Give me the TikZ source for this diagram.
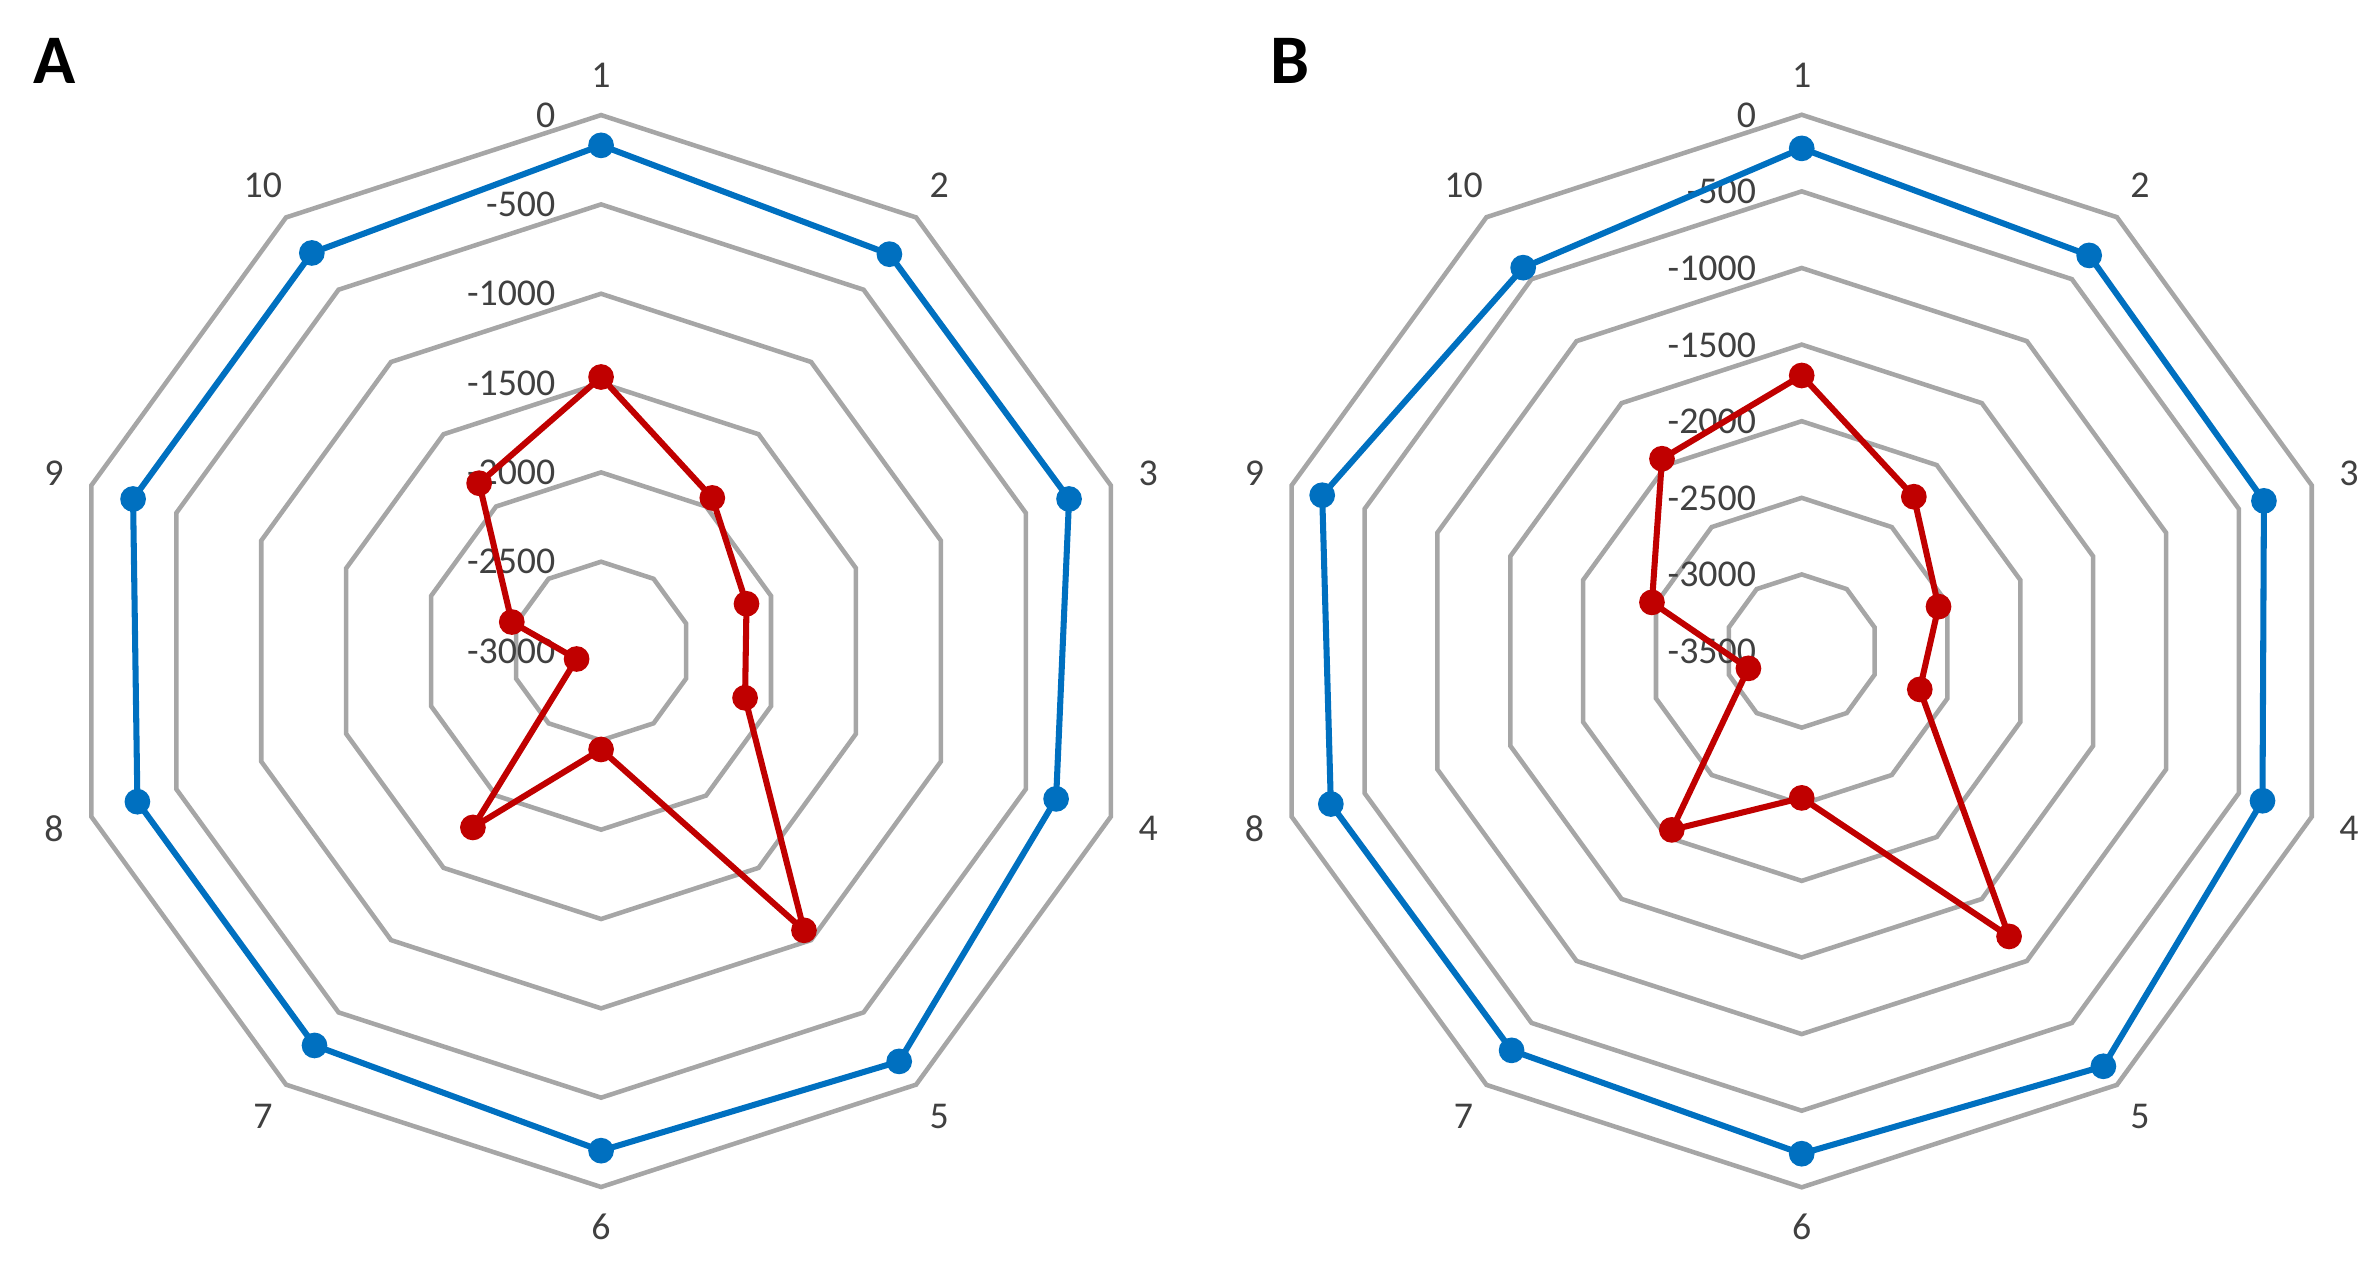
\documentclass[tikz,border=0pt]{standalone}
\usepackage{fontspec}
\setmainfont{Carlito}
\definecolor{cblue}{HTML}{0070C0}
\definecolor{cred}{HTML}{C00000}
\definecolor{cgrid}{HTML}{A6A6A6}
\definecolor{ctext}{HTML}{404040}
\tikzset{
 grid/.style={draw=cgrid,line width=3pt},
 bline/.style={draw=cblue,line width=4pt,line join=round},
 rline/.style={draw=cred,line width=4pt,line join=round},
 bdot/.style={circle,fill=cblue,inner sep=0pt,minimum size=17pt},
 rdot/.style={circle,fill=cred,inner sep=0pt,minimum size=17pt},
 tick/.style={text=ctext,font=\fontsize{25}{28}\selectfont,anchor=east,inner sep=0pt},
 axl/.style={text=ctext,font=\fontsize{25}{28}\selectfont,inner sep=0pt},
 panel/.style={font=\fontsize{46}{50}\selectfont\bfseries,inner sep=0pt}
}
\begin{document}
\begin{tikzpicture}[x=1pt,y=1pt]
\useasboundingbox (0,0) rectangle (1568,-841);
\node[panel] (A) at (36,-40) {A};
\node[panel] (B) at (852,-40) {B};
% Panel A
\begin{scope}[shift={(397,-430)}]
 \foreach \r in {59,118,177,236,295,354}
  \draw[grid] (90:\r) \foreach \k in {1,...,9}{ -- (90-36*\k:\r)} -- cycle;
 \foreach \v [count=\i from 0] in {0,-500,-1000,-1500,-2000,-2500,-3000}
  \node[tick] (at\i) at (-30,354-59*\i) {\v};
 \foreach \k in {1,...,10}
  \node[axl] (ax\k) at ({90-36*(\k-1)}:380) {\k};
 \foreach \r [count=\k] in {334,324,325,316,335,330,322,322,325,325}
  \node[bdot] (ab\k) at ({90-36*(\k-1)}:\r) {};
 \foreach \r [count=\k] in {181,125,101,100,228,65,144,17,62,137}
  \node[rdot] (ar\k) at ({90-36*(\k-1)}:\r) {};
 \draw[bline] (ab1.center) -- (ab2.center) -- (ab3.center) -- (ab4.center) -- (ab5.center) -- (ab6.center) -- (ab7.center) -- (ab8.center) -- (ab9.center) -- (ab10.center) -- cycle;
 \draw[rline] (ar1.center) -- (ar2.center) -- (ar3.center) -- (ar4.center) -- (ar5.center) -- (ar6.center) -- (ar7.center) -- (ar8.center) -- (ar9.center) -- (ar10.center) -- cycle;
\end{scope}
% Panel B
\begin{scope}[shift={(1190,-430)}]
 \foreach \i in {1,...,7}
  \draw[grid] (90:50.6*\i) \foreach \k in {1,...,9}{ -- (90-36*\k:50.6*\i)} -- cycle;
 \foreach \v [count=\i from 0] in {0,-500,-1000,-1500,-2000,-2500,-3000,-3500}
  \node[tick] (bt\i) at (-30,354-50.6*\i) {\v};
 \foreach \k in {1,...,10}
  \node[axl] (bx\k) at ({90-36*(\k-1)}:380) {\k};
 \foreach \r [count=\k] in {332,323,321,320,339,332,326,327,333,313}
  \node[bdot] (bb\k) at ({90-36*(\k-1)}:\r) {};
 \foreach \r [count=\k] in {182,126,95,82,233,97,146,37,104,157}
  \node[rdot] (br\k) at ({90-36*(\k-1)}:\r) {};
 \draw[bline] (bb1.center) -- (bb2.center) -- (bb3.center) -- (bb4.center) -- (bb5.center) -- (bb6.center) -- (bb7.center) -- (bb8.center) -- (bb9.center) -- (bb10.center) -- cycle;
 \draw[rline] (br1.center) -- (br2.center) -- (br3.center) -- (br4.center) -- (br5.center) -- (br6.center) -- (br7.center) -- (br8.center) -- (br9.center) -- (br10.center) -- cycle;
\end{scope}
\end{tikzpicture}
\end{document}
